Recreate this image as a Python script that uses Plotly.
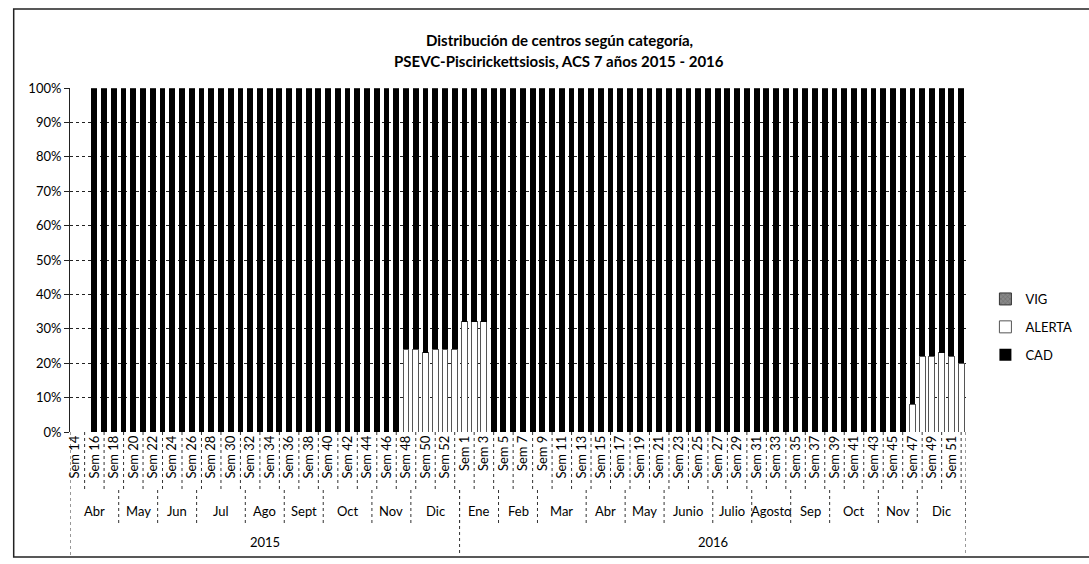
import plotly.graph_objects as go

# ---------------- data ----------------
weeks_2015 = [14, 15, 16, 17, 18, 19, 20, 21, 22, 23, 24, 25, 26, 27, 28, 29, 30, 31, 32, 33,
              34, 35, 36, 37, 38, 39, 40, 41, 42, 43, 44, 45, 46, 47, 48, 49, 50, 51, 52, 53]
weeks_2016 = [1, 2, 3, 4, 5, 6, 7, 8, 9, 10, 11, 12, 13, 14, 15, 16, 17, 18, 19, 20,
              21, 22, 23, 24, 25, 26, 27, 28, 29, 30, 31, 32, 33, 34, 35, 36, 37, 38, 39, 40,
              41, 42, 43, 44, 45, 46, 47, 48, 49, 50, 51, 52]

alerta_2015 = [0, 0, 0, 0, 0, 0, 0, 0, 0, 0, 0, 0, 0, 0, 0, 0, 0, 0, 0, 0,
               0, 0, 0, 0, 0, 0, 0, 0, 0, 0, 0, 0, 0, 0, 24, 24, 23, 24, 24, 24]
cad_2015 = [0, 0, 100, 100, 100, 100, 100, 100, 100, 100, 100, 100, 100, 100, 100, 100, 100, 100, 100, 100,
            100, 100, 100, 100, 100, 100, 100, 100, 100, 100, 100, 100, 100, 100, 76, 76, 77, 76, 76, 76]
alerta_2016 = [32, 32, 32, 0, 0, 0, 0, 0, 0, 0, 0, 0, 0, 0, 0, 0, 0, 0, 0, 0,
               0, 0, 0, 0, 0, 0, 0, 0, 0, 0, 0, 0, 0, 0, 0, 0, 0, 0, 0, 0,
               0, 0, 0, 0, 0, 0, 8, 22, 22, 23, 22, 20]
cad_2016 = [68, 68, 68, 100, 100, 100, 100, 100, 100, 100, 100, 100, 100, 100, 100, 100, 100, 100, 100, 100,
            100, 100, 100, 100, 100, 100, 100, 100, 100, 100, 100, 100, 100, 100, 100, 100, 100, 100, 100, 100,
            100, 100, 100, 100, 100, 100, 92, 78, 78, 77, 78, 80]
vig_2015 = [0] * 40
vig_2016 = [0] * 52

months_2015 = ["Abr", "May", "Jun", "Jul", "Ago", "Sept", "Oct", "Nov", "Dic"]
month_weeks_2015 = [5, 4, 4, 5, 4, 4, 5, 4, 5]
months_2016 = ["Ene", "Feb", "Mar", "Abr", "May", "Junio", "Julio", "Agosto", "Sep", "Oct", "Nov", "Dic"]
month_weeks_2016 = [4, 4, 5, 4, 4, 5, 4, 4, 4, 5, 4, 5]
years = ["2015", "2016"]

title_lines = ["Distribución de centros según categoría,",
               "PSEVC-Piscirickettsiosis, ACS 7 años 2015 - 2016"]

# ---------------- build ----------------
week_labels = [f"Sem {w}" for w in weeks_2015] + [f"Sem {w}" for w in weeks_2016]
n = len(week_labels)
xs = list(range(n))
alerta = alerta_2015 + alerta_2016
cad = cad_2015 + cad_2016
vig = vig_2015 + vig_2016

FONT = "Lato"
W, H = 1089, 564
L, R, T, B = 70, 993, 88, 432


def px_x(p):
    return (p - L) / (R - L)


def px_y(p):
    return (B - p) / (B - T)


fig = go.Figure()
fig.add_trace(go.Bar(x=xs, y=alerta, name="ALERTA", legendrank=2, legendgroup="ALERTA",
                     marker=dict(color="white", line=dict(color="#555555", width=1))))
fig.add_trace(go.Bar(x=xs, y=cad, name="CAD", legendrank=3, legendgroup="CAD",
                     marker=dict(color="black", line=dict(width=0))))
fig.add_trace(go.Bar(x=xs, y=vig, name="VIG", legendrank=1, legendgroup="VIG",
                     marker=dict(color="#888888", line=dict(color="#333333", width=1),
                                 pattern=dict(shape="x", fgcolor="#222222", size=4))))

shapes = []
# week row separators
week_sep = [i for i in xs if i % 2 == 1]
for xv in week_sep:
    shapes.append(dict(type="line", xref="x", yref="paper", x0=xv, x1=xv,
                       y0=0, y1=px_y(490), line=dict(color="#333333", width=1, dash="dot")))
# month separators and labels
annotations = []
start = -0.5
month_names = months_2015 + months_2016
month_sizes = month_weeks_2015 + month_weeks_2016
for name, size in zip(month_names, month_sizes):
    end = start + size
    annotations.append(dict(x=(start + end) / 2, y=px_y(511), xref="x", yref="paper",
                            text=name, showarrow=False, font=dict(family=FONT, size=13, color="black"),
                            xanchor="center", yanchor="middle"))
    shapes.append(dict(type="line", xref="x", yref="paper", x0=end, x1=end,
                       y0=px_y(490), y1=px_y(526), line=dict(color="#333333", width=1, dash="dot")))
    start = end
# year separators and labels
year_sizes = [len(weeks_2015), len(weeks_2016)]
start = -0.5
for yname, size in zip(years, year_sizes):
    end = start + size
    annotations.append(dict(x=(start + end) / 2, y=px_y(542), xref="x", yref="paper",
                            text=yname, showarrow=False, font=dict(family=FONT, size=13, color="black"),
                            xanchor="center", yanchor="middle"))
    shapes.append(dict(type="line", xref="x", yref="paper", x0=end, x1=end,
                       y0=px_y(490), y1=px_y(555), line=dict(color="#333333", width=1, dash="dot")))
    start = end
shapes.append(dict(type="line", xref="x", yref="paper", x0=-0.5, x1=-0.5,
                   y0=0, y1=px_y(555), line=dict(color="#333333", width=1, dash="dot")))
shapes.append(dict(type="line", xref="x", yref="paper", x0=n - 0.5, x1=n - 0.5,
                   y0=0, y1=px_y(490), line=dict(color="#333333", width=1, dash="dot")))
# outer chart border (right edge falls outside the picture)
shapes.append(dict(type="rect", xref="paper", yref="paper",
                   x0=px_x(12), x1=px_x(1300), y0=px_y(557), y1=px_y(9),
                   line=dict(color="#222222", width=1.5), fillcolor="rgba(0,0,0,0)", layer="below"))

# title
annotations.append(dict(x=px_x(574), y=px_y(40), xref="paper", yref="paper",
                        text="<b>" + title_lines[0] + "</b>", showarrow=False,
                        font=dict(family=FONT, size=15, color="black"), xanchor="center", yanchor="middle"))
annotations.append(dict(x=px_x(574), y=px_y(61), xref="paper", yref="paper",
                        text="<b>" + title_lines[1] + "</b>", showarrow=False,
                        font=dict(family=FONT, size=15, color="black"), xanchor="center", yanchor="middle"))

fig.update_layout(
    width=W, height=H,
    margin=dict(l=L, r=W - R, t=T, b=H - B),
    paper_bgcolor="white", plot_bgcolor="white",
    barmode="stack", bargap=0.4,
    font=dict(family=FONT, size=13, color="black"),
    shapes=shapes, annotations=annotations,
    showlegend=True,
    legend=dict(x=px_x(1013), y=px_y(284), xanchor="left", yanchor="top",
                font=dict(family=FONT, size=13, color="black"),
                traceorder="grouped", tracegroupgap=8, itemwidth=30,
                bgcolor="rgba(0,0,0,0)"),
    xaxis=dict(range=[-0.5, n - 0.5], tickmode="array",
               tickvals=[i for i in xs if i % 2 == 0],
               ticktext=[week_labels[i] for i in xs if i % 2 == 0],
               tickangle=-90, tickfont=dict(family=FONT, size=13, color="black"),
               showgrid=False, zeroline=False, showline=False, ticks=""),
    yaxis=dict(range=[0, 100], tickmode="array",
               tickvals=[0, 10, 20, 30, 40, 50, 60, 70, 80, 90, 100],
               ticktext=["0%", "10%", "20%", "30%", "40%", "50%", "60%", "70%", "80%", "90%", "100%"],
               tickfont=dict(family=FONT, size=13, color="black"),
               showgrid=True, gridcolor="#222222", gridwidth=1, griddash="dot",
               showline=True, linecolor="#222222", linewidth=1,
               ticks="outside", ticklen=5, tickcolor="#222222",
               zeroline=False),
)

fig.write_html("out.html", config={"displayModeBar": False},
               post_script="document.body.style.margin='0';")
